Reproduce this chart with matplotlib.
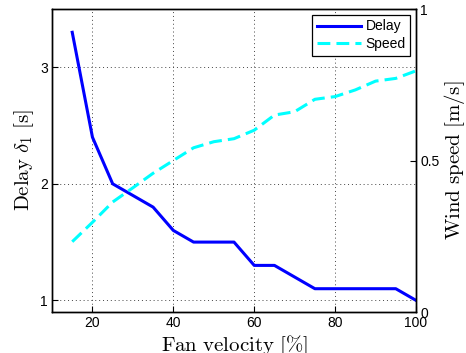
import matplotlib
matplotlib.use("Agg")
import matplotlib.pyplot as plt

# fan velocity [%]
fan_velocity = [15, 20, 25, 30, 35, 40, 45, 50, 55, 60, 65, 70, 75, 80, 85, 90, 95, 100]
delay = [3.3, 2.4, 2.0, 1.9, 1.8, 1.6, 1.5, 1.5, 1.5, 1.3, 1.3, 1.2, 1.1, 1.1, 1.1, 1.1, 1.1, 1.0]
wind_speed = [0.232, 0.296, 0.363, 0.41, 0.458, 0.50, 0.542, 0.562, 0.572, 0.60, 0.65,
              0.661, 0.702, 0.711, 0.733, 0.762, 0.771, 0.796]

x_ticks = [20, 40, 60, 80, 100]
left_ticks = [1, 2, 3]
right_ticks = [0, 0.5, 1]

plt.rcParams.update({
    "font.family": "Liberation Sans",
    "mathtext.fontset": "cm",
    "font.size": 10,
    "axes.linewidth": 1.0,
    "xtick.direction": "in",
    "ytick.direction": "in",
})

fig = plt.figure(figsize=(4.66, 3.53), dpi=100)
ax = fig.add_axes([0.1116, 0.1161, 0.7811, 0.8584])
ax2 = ax.twinx()

l1, = ax.plot(fan_velocity, delay, color="#0000ff", linewidth=2.2, label="Delay")
l2, = ax2.plot(fan_velocity, wind_speed, color="#00ffff", linewidth=2.2,
               dashes=(4.2, 2.0), label="Speed")

ax.set_xlim(10, 100)
ax.set_ylim(0.9, 3.5)
ax2.set_ylim(0, 1)
ax.set_xticks(x_ticks)
ax.set_yticks(left_ticks)
ax2.set_yticks(right_ticks)
ax2.set_yticklabels(["0", "0.5", "1"])

ax.grid(True, linestyle=(0, (1, 3)), color="#444444", linewidth=0.7)
ax.tick_params(length=4, width=0.8, pad=3, top=False)
ax2.tick_params(length=4, width=0.8, pad=3)

ax.set_xlabel(r"$\mathrm{Fan\ velocity\ [\%]}$", fontsize=15, labelpad=2)
ax.set_ylabel(r"$\mathrm{Delay}\ \delta_1\ \mathrm{[s]}$", fontsize=15, labelpad=3)
ax2.set_ylabel(r"$\mathrm{Wind\ speed\ [m/s]}$", fontsize=15, labelpad=2)

leg = ax2.legend(handles=[l1, l2], loc="upper right", fontsize=10, frameon=True,
                 fancybox=False, edgecolor="black", framealpha=1,
                 borderaxespad=0.4, handlelength=3.2, handletextpad=0.3,
                 borderpad=0.35, labelspacing=0.25)
leg.get_frame().set_linewidth(0.9)

fig.savefig("out.png", dpi=100)
